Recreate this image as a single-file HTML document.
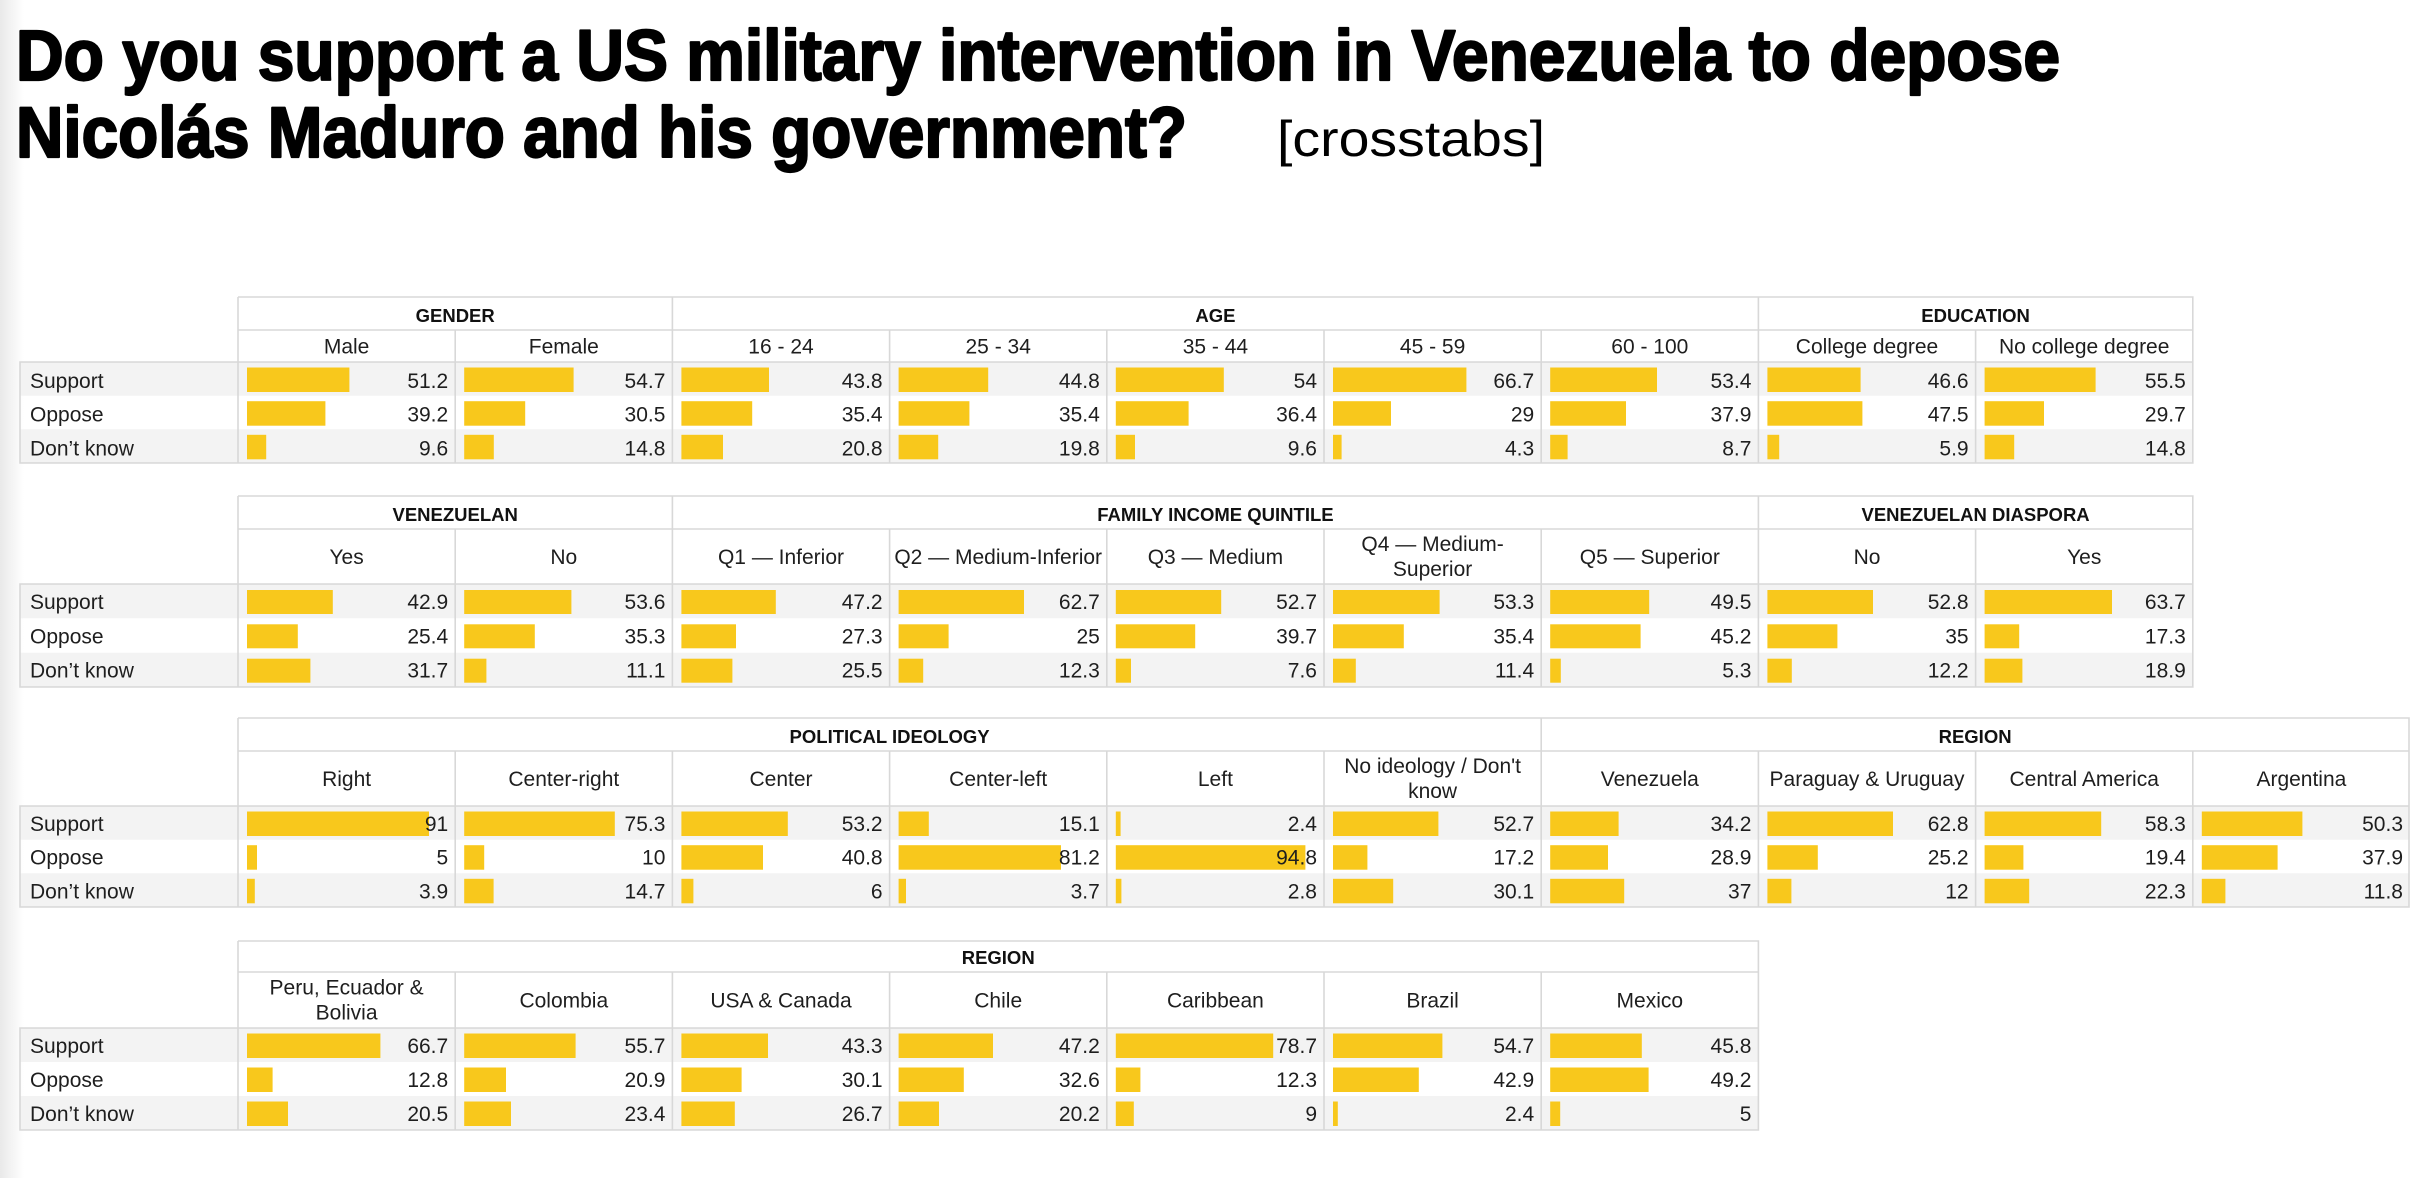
<!DOCTYPE html>
<html><head><meta charset="utf-8"><style>
html,body{margin:0;padding:0;background:#fff;}
svg{display:block;}
.n{font-family:"Liberation Sans",sans-serif;font-size:21px;fill:#1e1e1e;text-anchor:end;}
.l{font-family:"Liberation Sans",sans-serif;font-size:21px;fill:#1e1e1e;text-anchor:start;}
.s{font-family:"Liberation Sans",sans-serif;font-size:21px;fill:#1e1e1e;text-anchor:middle;}
.h{font-family:"Liberation Sans",sans-serif;font-size:18.5px;font-weight:bold;fill:#111;text-anchor:middle;}
</style></head><body>
<svg width="2412" height="1178" viewBox="0 0 2412 1178" xmlns="http://www.w3.org/2000/svg">
<defs><linearGradient id="lg" x1="0" x2="1" y1="0" y2="0"><stop offset="0" stop-color="#e9e9e9"/><stop offset="1" stop-color="#ffffff"/></linearGradient></defs>
<rect x="0" y="0" width="2412" height="1178" fill="#fff"/>
<rect x="0" y="0" width="24" height="1178" fill="url(#lg)"/>

<!-- Title -->
<text x="16" y="80" font-family="Liberation Sans, sans-serif" font-size="71" font-weight="bold" fill="#000" stroke="#000" stroke-width="2.2" stroke-linejoin="round" textLength="2044" lengthAdjust="spacingAndGlyphs">Do you support a US military intervention in Venezuela to depose</text>
<text x="16" y="157" font-family="Liberation Sans, sans-serif" font-size="71" font-weight="bold" fill="#000" stroke="#000" stroke-width="2.2" stroke-linejoin="round" textLength="1171" lengthAdjust="spacingAndGlyphs">Nicolás Maduro and his government?</text>
<text x="1277" y="156" font-family="Liberation Sans, sans-serif" font-size="50" fill="#000" textLength="268" lengthAdjust="spacingAndGlyphs">[crosstabs]</text>

<!-- grey rows -->
<g fill="#f3f3f3">
<rect x="20" y="362" width="2172.8" height="33.7"/><rect x="20" y="429.3" width="2172.8" height="33.7"/>
<rect x="20" y="584" width="2172.8" height="34.3"/><rect x="20" y="652.7" width="2172.8" height="34.3"/>
<rect x="20" y="806" width="2389" height="33.7"/><rect x="20" y="873.3" width="2389" height="33.7"/>
<rect x="20" y="1028" width="1738.4" height="34"/><rect x="20" y="1096" width="1738.4" height="34"/>
</g>

<!-- bars -->
<g fill="#F8C81C">
<!-- T1 -->
<rect x="247" y="367.5" width="102.4" height="24.5"/><rect x="247" y="401.2" width="78.4" height="24.5"/><rect x="247" y="434.8" width="19.2" height="24.5"/>
<rect x="464.2" y="367.5" width="109.4" height="24.5"/><rect x="464.2" y="401.2" width="61" height="24.5"/><rect x="464.2" y="434.8" width="29.6" height="24.5"/>
<rect x="681.4" y="367.5" width="87.6" height="24.5"/><rect x="681.4" y="401.2" width="70.8" height="24.5"/><rect x="681.4" y="434.8" width="41.6" height="24.5"/>
<rect x="898.6" y="367.5" width="89.6" height="24.5"/><rect x="898.6" y="401.2" width="70.8" height="24.5"/><rect x="898.6" y="434.8" width="39.6" height="24.5"/>
<rect x="1115.8" y="367.5" width="108" height="24.5"/><rect x="1115.8" y="401.2" width="72.8" height="24.5"/><rect x="1115.8" y="434.8" width="19.2" height="24.5"/>
<rect x="1333" y="367.5" width="133.4" height="24.5"/><rect x="1333" y="401.2" width="58" height="24.5"/><rect x="1333" y="434.8" width="8.6" height="24.5"/>
<rect x="1550.2" y="367.5" width="106.8" height="24.5"/><rect x="1550.2" y="401.2" width="75.8" height="24.5"/><rect x="1550.2" y="434.8" width="17.4" height="24.5"/>
<rect x="1767.4" y="367.5" width="93.2" height="24.5"/><rect x="1767.4" y="401.2" width="95" height="24.5"/><rect x="1767.4" y="434.8" width="11.8" height="24.5"/>
<rect x="1984.6" y="367.5" width="111" height="24.5"/><rect x="1984.6" y="401.2" width="59.4" height="24.5"/><rect x="1984.6" y="434.8" width="29.6" height="24.5"/>
<!-- T2 -->
<rect x="247" y="590" width="85.8" height="24"/><rect x="247" y="624.3" width="50.8" height="24"/><rect x="247" y="658.7" width="63.4" height="24"/>
<rect x="464.2" y="590" width="107.2" height="24"/><rect x="464.2" y="624.3" width="70.6" height="24"/><rect x="464.2" y="658.7" width="22.2" height="24"/>
<rect x="681.4" y="590" width="94.4" height="24"/><rect x="681.4" y="624.3" width="54.6" height="24"/><rect x="681.4" y="658.7" width="51" height="24"/>
<rect x="898.6" y="590" width="125.4" height="24"/><rect x="898.6" y="624.3" width="50" height="24"/><rect x="898.6" y="658.7" width="24.6" height="24"/>
<rect x="1115.8" y="590" width="105.4" height="24"/><rect x="1115.8" y="624.3" width="79.4" height="24"/><rect x="1115.8" y="658.7" width="15.2" height="24"/>
<rect x="1333" y="590" width="106.6" height="24"/><rect x="1333" y="624.3" width="70.8" height="24"/><rect x="1333" y="658.7" width="22.8" height="24"/>
<rect x="1550.2" y="590" width="99" height="24"/><rect x="1550.2" y="624.3" width="90.4" height="24"/><rect x="1550.2" y="658.7" width="10.6" height="24"/>
<rect x="1767.4" y="590" width="105.6" height="24"/><rect x="1767.4" y="624.3" width="70" height="24"/><rect x="1767.4" y="658.7" width="24.4" height="24"/>
<rect x="1984.6" y="590" width="127.4" height="24"/><rect x="1984.6" y="624.3" width="34.6" height="24"/><rect x="1984.6" y="658.7" width="37.8" height="24"/>
<!-- T3 -->
<rect x="247" y="811.5" width="182" height="24.5"/><rect x="247" y="845.2" width="10" height="24.5"/><rect x="247" y="878.8" width="7.8" height="24.5"/>
<rect x="464.2" y="811.5" width="150.6" height="24.5"/><rect x="464.2" y="845.2" width="20" height="24.5"/><rect x="464.2" y="878.8" width="29.4" height="24.5"/>
<rect x="681.4" y="811.5" width="106.4" height="24.5"/><rect x="681.4" y="845.2" width="81.6" height="24.5"/><rect x="681.4" y="878.8" width="12" height="24.5"/>
<rect x="898.6" y="811.5" width="30.2" height="24.5"/><rect x="898.6" y="845.2" width="162.4" height="24.5"/><rect x="898.6" y="878.8" width="7.4" height="24.5"/>
<rect x="1115.8" y="811.5" width="4.8" height="24.5"/><rect x="1115.8" y="845.2" width="189.6" height="24.5"/><rect x="1115.8" y="878.8" width="5.6" height="24.5"/>
<rect x="1333" y="811.5" width="105.4" height="24.5"/><rect x="1333" y="845.2" width="34.4" height="24.5"/><rect x="1333" y="878.8" width="60.2" height="24.5"/>
<rect x="1550.2" y="811.5" width="68.4" height="24.5"/><rect x="1550.2" y="845.2" width="57.8" height="24.5"/><rect x="1550.2" y="878.8" width="74" height="24.5"/>
<rect x="1767.4" y="811.5" width="125.6" height="24.5"/><rect x="1767.4" y="845.2" width="50.4" height="24.5"/><rect x="1767.4" y="878.8" width="24" height="24.5"/>
<rect x="1984.6" y="811.5" width="116.6" height="24.5"/><rect x="1984.6" y="845.2" width="38.8" height="24.5"/><rect x="1984.6" y="878.8" width="44.6" height="24.5"/>
<rect x="2201.8" y="811.5" width="100.6" height="24.5"/><rect x="2201.8" y="845.2" width="75.8" height="24.5"/><rect x="2201.8" y="878.8" width="23.6" height="24.5"/>
<!-- T4 -->
<rect x="247" y="1033.5" width="133.4" height="24.5"/><rect x="247" y="1067.5" width="25.6" height="24.5"/><rect x="247" y="1101.5" width="41" height="24.5"/>
<rect x="464.2" y="1033.5" width="111.4" height="24.5"/><rect x="464.2" y="1067.5" width="41.8" height="24.5"/><rect x="464.2" y="1101.5" width="46.8" height="24.5"/>
<rect x="681.4" y="1033.5" width="86.6" height="24.5"/><rect x="681.4" y="1067.5" width="60.2" height="24.5"/><rect x="681.4" y="1101.5" width="53.4" height="24.5"/>
<rect x="898.6" y="1033.5" width="94.4" height="24.5"/><rect x="898.6" y="1067.5" width="65.2" height="24.5"/><rect x="898.6" y="1101.5" width="40.4" height="24.5"/>
<rect x="1115.8" y="1033.5" width="157.4" height="24.5"/><rect x="1115.8" y="1067.5" width="24.6" height="24.5"/><rect x="1115.8" y="1101.5" width="18" height="24.5"/>
<rect x="1333" y="1033.5" width="109.4" height="24.5"/><rect x="1333" y="1067.5" width="85.8" height="24.5"/><rect x="1333" y="1101.5" width="4.8" height="24.5"/>
<rect x="1550.2" y="1033.5" width="91.6" height="24.5"/><rect x="1550.2" y="1067.5" width="98.4" height="24.5"/><rect x="1550.2" y="1101.5" width="10" height="24.5"/>
</g>

<!-- borders -->
<g fill="none" stroke="#d8d8d8" stroke-width="1.6">
<path d="M238 297H2192.8V463H20V362H2192.8 M238 330H2192.8 M238 297V463 M455.2 330V463 M672.4 297V463 M889.6 330V463 M1106.8 330V463 M1324 330V463 M1541.2 330V463 M1758.4 297V463 M1975.6 330V463"/>
<path d="M238 496H2192.8V687H20V584H2192.8 M238 529H2192.8 M238 496V687 M455.2 529V687 M672.4 496V687 M889.6 529V687 M1106.8 529V687 M1324 529V687 M1541.2 529V687 M1758.4 496V687 M1975.6 529V687"/>
<path d="M238 718H2409V907H20V806H2409 M238 751H2409 M238 718V907 M455.2 751V907 M672.4 751V907 M889.6 751V907 M1106.8 751V907 M1324 751V907 M1541.2 718V907 M1758.4 751V907 M1975.6 751V907 M2192.8 751V907"/>
<path d="M238 941H1758.4V1130H20V1028H1758.4 M238 972H1758.4 M238 941V1130 M455.2 972V1130 M672.4 972V1130 M889.6 972V1130 M1106.8 972V1130 M1324 972V1130 M1541.2 972V1130"/>
</g>

<!-- ===== TABLE 1 text ===== -->
<text class="h" x="455.2" y="322">GENDER</text>
<text class="h" x="1215.4" y="322">AGE</text>
<text class="h" x="1975.6" y="322">EDUCATION</text>
<text class="s" x="346.6" y="353.5">Male</text>
<text class="s" x="563.8" y="353.5">Female</text>
<text class="s" x="781" y="353.5">16 - 24</text>
<text class="s" x="998.2" y="353.5">25 - 34</text>
<text class="s" x="1215.4" y="353.5">35 - 44</text>
<text class="s" x="1432.6" y="353.5">45 - 59</text>
<text class="s" x="1649.8" y="353.5">60 - 100</text>
<text class="s" x="1867" y="353.5">College degree</text>
<text class="s" x="2084.2" y="353.5">No college degree</text>
<text class="l" x="30" y="388">Support</text>
<text class="l" x="30" y="421.7">Oppose</text>
<text class="l" x="30" y="455.3">Don’t know</text>
<text class="n" x="448.2" y="388">51.2</text><text class="n" x="448.2" y="421.7">39.2</text><text class="n" x="448.2" y="455.3">9.6</text>
<text class="n" x="665.4" y="388">54.7</text><text class="n" x="665.4" y="421.7">30.5</text><text class="n" x="665.4" y="455.3">14.8</text>
<text class="n" x="882.6" y="388">43.8</text><text class="n" x="882.6" y="421.7">35.4</text><text class="n" x="882.6" y="455.3">20.8</text>
<text class="n" x="1099.8" y="388">44.8</text><text class="n" x="1099.8" y="421.7">35.4</text><text class="n" x="1099.8" y="455.3">19.8</text>
<text class="n" x="1317" y="388">54</text><text class="n" x="1317" y="421.7">36.4</text><text class="n" x="1317" y="455.3">9.6</text>
<text class="n" x="1534.2" y="388">66.7</text><text class="n" x="1534.2" y="421.7">29</text><text class="n" x="1534.2" y="455.3">4.3</text>
<text class="n" x="1751.4" y="388">53.4</text><text class="n" x="1751.4" y="421.7">37.9</text><text class="n" x="1751.4" y="455.3">8.7</text>
<text class="n" x="1968.6" y="388">46.6</text><text class="n" x="1968.6" y="421.7">47.5</text><text class="n" x="1968.6" y="455.3">5.9</text>
<text class="n" x="2185.8" y="388">55.5</text><text class="n" x="2185.8" y="421.7">29.7</text><text class="n" x="2185.8" y="455.3">14.8</text>

<!-- ===== TABLE 2 text ===== -->
<text class="h" x="455.2" y="521">VENEZUELAN</text>
<text class="h" x="1215.4" y="521">FAMILY INCOME QUINTILE</text>
<text class="h" x="1975.6" y="521">VENEZUELAN DIASPORA</text>
<text class="s" x="346.6" y="564">Yes</text>
<text class="s" x="563.8" y="564">No</text>
<text class="s" x="781" y="564">Q1 — Inferior</text>
<text class="s" x="998.2" y="564">Q2 — Medium-Inferior</text>
<text class="s" x="1215.4" y="564">Q3 — Medium</text>
<text class="s" x="1432.6" y="551">Q4 — Medium-</text>
<text class="s" x="1432.6" y="576">Superior</text>
<text class="s" x="1649.8" y="564">Q5 — Superior</text>
<text class="s" x="1867" y="564">No</text>
<text class="s" x="2084.2" y="564">Yes</text>
<text class="l" x="30" y="609">Support</text>
<text class="l" x="30" y="643.3">Oppose</text>
<text class="l" x="30" y="677.7">Don’t know</text>
<text class="n" x="448.2" y="609">42.9</text><text class="n" x="448.2" y="643.3">25.4</text><text class="n" x="448.2" y="677.7">31.7</text>
<text class="n" x="665.4" y="609">53.6</text><text class="n" x="665.4" y="643.3">35.3</text><text class="n" x="665.4" y="677.7">11.1</text>
<text class="n" x="882.6" y="609">47.2</text><text class="n" x="882.6" y="643.3">27.3</text><text class="n" x="882.6" y="677.7">25.5</text>
<text class="n" x="1099.8" y="609">62.7</text><text class="n" x="1099.8" y="643.3">25</text><text class="n" x="1099.8" y="677.7">12.3</text>
<text class="n" x="1317" y="609">52.7</text><text class="n" x="1317" y="643.3">39.7</text><text class="n" x="1317" y="677.7">7.6</text>
<text class="n" x="1534.2" y="609">53.3</text><text class="n" x="1534.2" y="643.3">35.4</text><text class="n" x="1534.2" y="677.7">11.4</text>
<text class="n" x="1751.4" y="609">49.5</text><text class="n" x="1751.4" y="643.3">45.2</text><text class="n" x="1751.4" y="677.7">5.3</text>
<text class="n" x="1968.6" y="609">52.8</text><text class="n" x="1968.6" y="643.3">35</text><text class="n" x="1968.6" y="677.7">12.2</text>
<text class="n" x="2185.8" y="609">63.7</text><text class="n" x="2185.8" y="643.3">17.3</text><text class="n" x="2185.8" y="677.7">18.9</text>

<!-- ===== TABLE 3 text ===== -->
<text class="h" x="889.6" y="743">POLITICAL IDEOLOGY</text>
<text class="h" x="1975.1" y="743">REGION</text>
<text class="s" x="346.6" y="786">Right</text>
<text class="s" x="563.8" y="786">Center-right</text>
<text class="s" x="781" y="786">Center</text>
<text class="s" x="998.2" y="786">Center-left</text>
<text class="s" x="1215.4" y="786">Left</text>
<text class="s" x="1432.6" y="773">No ideology / Don't</text>
<text class="s" x="1432.6" y="798">know</text>
<text class="s" x="1649.8" y="786">Venezuela</text>
<text class="s" x="1867" y="786">Paraguay &amp; Uruguay</text>
<text class="s" x="2084.2" y="786">Central America</text>
<text class="s" x="2301.4" y="786">Argentina</text>
<text class="l" x="30" y="831">Support</text>
<text class="l" x="30" y="864.7">Oppose</text>
<text class="l" x="30" y="898.3">Don’t know</text>
<text class="n" x="448.2" y="831">91</text><text class="n" x="448.2" y="864.7">5</text><text class="n" x="448.2" y="898.3">3.9</text>
<text class="n" x="665.4" y="831">75.3</text><text class="n" x="665.4" y="864.7">10</text><text class="n" x="665.4" y="898.3">14.7</text>
<text class="n" x="882.6" y="831">53.2</text><text class="n" x="882.6" y="864.7">40.8</text><text class="n" x="882.6" y="898.3">6</text>
<text class="n" x="1099.8" y="831">15.1</text><text class="n" x="1099.8" y="864.7">81.2</text><text class="n" x="1099.8" y="898.3">3.7</text>
<text class="n" x="1317" y="831">2.4</text><text class="n" x="1317" y="864.7">94.8</text><text class="n" x="1317" y="898.3">2.8</text>
<text class="n" x="1534.2" y="831">52.7</text><text class="n" x="1534.2" y="864.7">17.2</text><text class="n" x="1534.2" y="898.3">30.1</text>
<text class="n" x="1751.4" y="831">34.2</text><text class="n" x="1751.4" y="864.7">28.9</text><text class="n" x="1751.4" y="898.3">37</text>
<text class="n" x="1968.6" y="831">62.8</text><text class="n" x="1968.6" y="864.7">25.2</text><text class="n" x="1968.6" y="898.3">12</text>
<text class="n" x="2185.8" y="831">58.3</text><text class="n" x="2185.8" y="864.7">19.4</text><text class="n" x="2185.8" y="898.3">22.3</text>
<text class="n" x="2403" y="831">50.3</text><text class="n" x="2403" y="864.7">37.9</text><text class="n" x="2403" y="898.3">11.8</text>

<!-- ===== TABLE 4 text ===== -->
<text class="h" x="998.2" y="964">REGION</text>
<text class="s" x="346.6" y="994.5">Peru, Ecuador &amp;</text>
<text class="s" x="346.6" y="1019.5">Bolivia</text>
<text class="s" x="563.8" y="1007.5">Colombia</text>
<text class="s" x="781" y="1007.5">USA &amp; Canada</text>
<text class="s" x="998.2" y="1007.5">Chile</text>
<text class="s" x="1215.4" y="1007.5">Caribbean</text>
<text class="s" x="1432.6" y="1007.5">Brazil</text>
<text class="s" x="1649.8" y="1007.5">Mexico</text>
<text class="l" x="30" y="1053">Support</text>
<text class="l" x="30" y="1087">Oppose</text>
<text class="l" x="30" y="1121">Don’t know</text>
<text class="n" x="448.2" y="1053">66.7</text><text class="n" x="448.2" y="1087">12.8</text><text class="n" x="448.2" y="1121">20.5</text>
<text class="n" x="665.4" y="1053">55.7</text><text class="n" x="665.4" y="1087">20.9</text><text class="n" x="665.4" y="1121">23.4</text>
<text class="n" x="882.6" y="1053">43.3</text><text class="n" x="882.6" y="1087">30.1</text><text class="n" x="882.6" y="1121">26.7</text>
<text class="n" x="1099.8" y="1053">47.2</text><text class="n" x="1099.8" y="1087">32.6</text><text class="n" x="1099.8" y="1121">20.2</text>
<text class="n" x="1317" y="1053">78.7</text><text class="n" x="1317" y="1087">12.3</text><text class="n" x="1317" y="1121">9</text>
<text class="n" x="1534.2" y="1053">54.7</text><text class="n" x="1534.2" y="1087">42.9</text><text class="n" x="1534.2" y="1121">2.4</text>
<text class="n" x="1751.4" y="1053">45.8</text><text class="n" x="1751.4" y="1087">49.2</text><text class="n" x="1751.4" y="1121">5</text>
</svg>
</body></html>
